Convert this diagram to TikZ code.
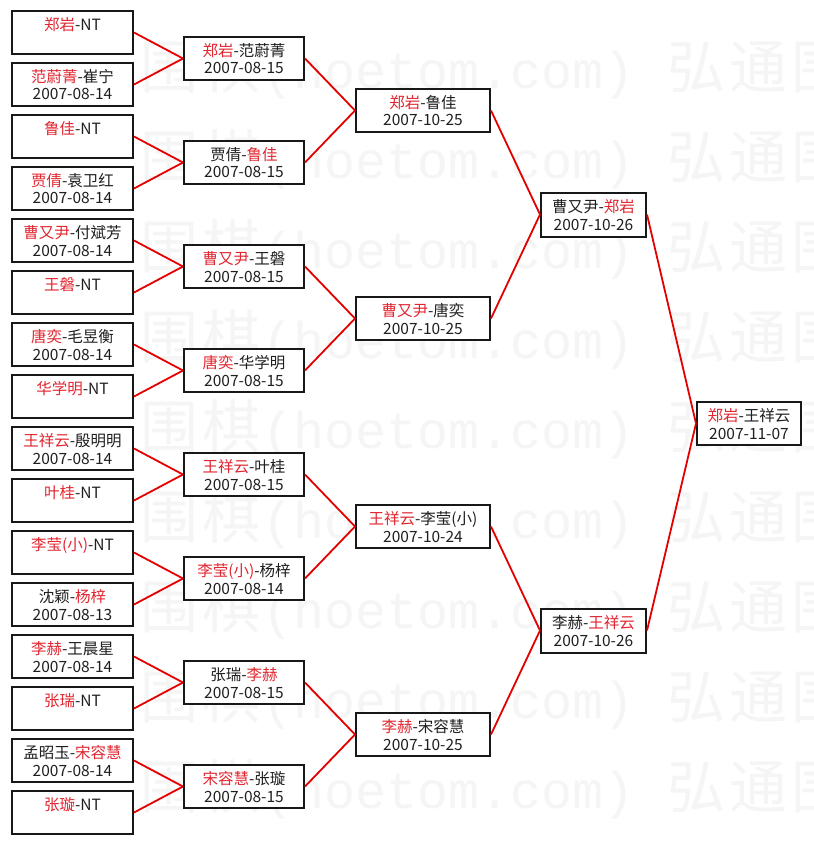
\documentclass[tikz,border=0pt]{standalone}
\usepackage{fontspec}
\setmainfont{Noto Sans CJK SC}
\newfontfamily\wmlat{Liberation Mono}
\definecolor{nm}{RGB}{226,38,48}
\definecolor{ln}{RGB}{228,0,0}
\definecolor{wm}{RGB}{245,245,245}
\definecolor{bd}{RGB}{24,24,24}
\newcommand\R[1]{\textcolor{nm}{#1}}
\newcommand\bx[6]{%
  \node[boxst,#2] (#1) at (#3,#4) {};
  \node[txt] (#1t) at (#3,#4-2) {#5};
  \node[txt] (#1d) at (#3,#4+15.5) {#6};
}
\begin{document}
\begin{tikzpicture}[x=1pt,y=-1pt,
  boxst/.style={draw=bd,line width=2pt,fill=white,inner sep=0pt},
  cA/.style={minimum width=121pt,minimum height=43pt},
  cB/.style={minimum width=120pt,minimum height=43pt},
  cC/.style={minimum width=134pt,minimum height=43pt},
  cD/.style={minimum width=105pt,minimum height=44pt},
  cE/.style={minimum width=104pt,minimum height=43pt},
  txt/.style={anchor=base,inner sep=0pt,text=black!88,font=\fontsize{15.5pt}{18pt}\selectfont},
  conn/.style={draw=ln,line width=1.8pt},
  wmc/.style={anchor=base,inner sep=0pt,text=wm,font=\fontsize{58pt}{60pt}\selectfont},
  wml/.style={anchor=base west,inner sep=0pt,text=wm,font=\wmlat\fontsize{51.7pt}{55pt}\selectfont}]
\fill[white] (0,0) rectangle (813,845);
\useasboundingbox (0,0) rectangle (813,845);
% watermark
\begin{scope}
\clip (0,0) rectangle (813,845);
\foreach \k in {0,...,8}{
  \foreach \c [count=\j from 2] in {围,棋}{
    \node[wmc] (wa\k\j) at (45+62*\j, 88.5+90*\k) {\c};
  }
  \node[wml] (wl\k) at (262, 88.5+90*\k) {(hoetom.com)};
  \foreach \c [count=\j from 0] in {弘,通,围}{
    \node[wmc] (wb\k\j) at (696+62*\j, 88.5+90*\k) {\c};
  }
}
\end{scope}
% round 1
\bx{l0}{cA}{72.5}{32.5}{\R{郑岩}-NT}{}
\bx{l1}{cA}{72.5}{84.5}{\R{范蔚菁}-崔宁}{2007-08-14}
\bx{l2}{cA}{72.5}{136.5}{\R{鲁佳}-NT}{}
\bx{l3}{cA}{72.5}{188.5}{\R{贾倩}-袁卫红}{2007-08-14}
\bx{l4}{cA}{72.5}{240.5}{\R{曹又尹}-付斌芳}{2007-08-14}
\bx{l5}{cA}{72.5}{292.5}{\R{王磐}-NT}{}
\bx{l6}{cA}{72.5}{344.5}{\R{唐奕}-毛昱衡}{2007-08-14}
\bx{l7}{cA}{72.5}{396.5}{\R{华学明}-NT}{}
\bx{l8}{cA}{72.5}{448.5}{\R{王祥云}-殷明明}{2007-08-14}
\bx{l9}{cA}{72.5}{500.5}{\R{叶桂}-NT}{}
\bx{l10}{cA}{72.5}{552.5}{\R{李莹(小)}-NT}{}
\bx{l11}{cA}{72.5}{604.5}{沈颖-\R{杨梓}}{2007-08-13}
\bx{l12}{cA}{72.5}{656.5}{\R{李赫}-王晨星}{2007-08-14}
\bx{l13}{cA}{72.5}{708.5}{\R{张瑞}-NT}{}
\bx{l14}{cA}{72.5}{760.5}{孟昭玉-\R{宋容慧}}{2007-08-14}
\bx{l15}{cA}{72.5}{812.5}{\R{张璇}-NT}{}
% round 2
\bx{a0}{cB}{244}{58.5}{\R{郑岩}-范蔚菁}{2007-08-15}
\bx{a1}{cB}{244}{162.5}{贾倩-\R{鲁佳}}{2007-08-15}
\bx{a2}{cB}{244}{266.5}{\R{曹又尹}-王磐}{2007-08-15}
\bx{a3}{cB}{244}{370.5}{\R{唐奕}-华学明}{2007-08-15}
\bx{a4}{cB}{244}{474.5}{\R{王祥云}-叶桂}{2007-08-15}
\bx{a5}{cB}{244}{578.5}{\R{李莹(小)}-杨梓}{2007-08-14}
\bx{a6}{cB}{244}{682.5}{张瑞-\R{李赫}}{2007-08-15}
\bx{a7}{cB}{244}{786.5}{\R{宋容慧}-张璇}{2007-08-15}
% round 3
\bx{b0}{cC}{423}{110.5}{\R{郑岩}-鲁佳}{2007-10-25}
\bx{b1}{cC}{423}{318.5}{\R{曹又尹}-唐奕}{2007-10-25}
\bx{b2}{cC}{423}{526.5}{\R{王祥云}-李莹(小)}{2007-10-24}
\bx{b3}{cC}{423}{734.5}{\R{李赫}-宋容慧}{2007-10-25}
% round 4
\bx{c0}{cD}{593.5}{214.5}{曹又尹-\R{郑岩}}{2007-10-26}
\bx{c1}{cD}{593.5}{630.5}{李赫-\R{王祥云}}{2007-10-26}
% final
\bx{d0}{cE}{749}{423.5}{\R{郑岩}-王祥云}{2007-11-07}
% connectors
\foreach \p in {0,...,7}{
  \pgfmathtruncatemacro\ca{2*\p}
  \pgfmathtruncatemacro\cb{2*\p+1}
  \draw[conn] (l\ca.east) -- (a\p.west);
  \draw[conn] (l\cb.east) -- (a\p.west);
}
\foreach \p in {0,...,3}{
  \pgfmathtruncatemacro\ca{2*\p}
  \pgfmathtruncatemacro\cb{2*\p+1}
  \draw[conn] (a\ca.east) -- (b\p.west);
  \draw[conn] (a\cb.east) -- (b\p.west);
}
\foreach \p in {0,1}{
  \pgfmathtruncatemacro\ca{2*\p}
  \pgfmathtruncatemacro\cb{2*\p+1}
  \draw[conn] (b\ca.east) -- (c\p.west);
  \draw[conn] (b\cb.east) -- (c\p.west);
}
\draw[conn] (c0.east) -- (d0.west);
\draw[conn] (c1.east) -- (d0.west);
\end{tikzpicture}
\end{document}
